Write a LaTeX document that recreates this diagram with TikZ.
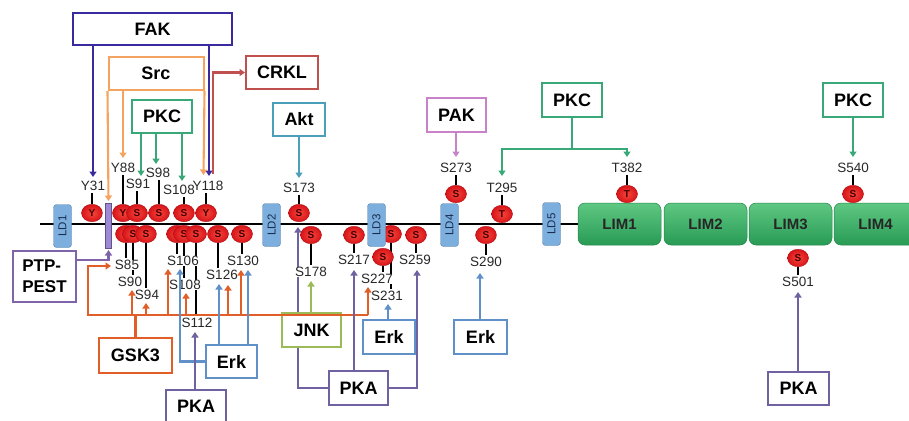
\documentclass[tikz,border=0pt]{standalone}
\usepackage{fontspec}
\setmainfont{Liberation Sans}
\usetikzlibrary{arrows.meta,shapes.geometric}
\definecolor{fakc}{RGB}{57,43,158}
\definecolor{srcc}{RGB}{244,164,96}
\definecolor{pkcc}{RGB}{56,168,120}
\definecolor{crklc}{RGB}{192,80,77}
\definecolor{aktc}{RGB}{75,160,185}
\definecolor{pakc}{RGB}{200,130,200}
\definecolor{pkac}{RGB}{112,98,160}
\definecolor{jnkc}{RGB}{155,187,89}
\definecolor{erkc}{RGB}{95,145,200}
\definecolor{gskc}{RGB}{226,94,40}
\definecolor{ptpc}{RGB}{128,100,170}
\definecolor{ldfill}{RGB}{125,175,222}
\definecolor{ldtext}{RGB}{25,45,80}
\definecolor{limtop}{RGB}{95,200,130}
\definecolor{limbot}{RGB}{40,155,85}
\definecolor{siteout}{RGB}{215,20,25}
\definecolor{sitein}{RGB}{245,70,60}
\definecolor{sitetext}{RGB}{70,0,0}
\definecolor{labc}{RGB}{40,40,40}
\definecolor{prrc}{RGB}{157,138,214}
\pgfdeclarelayer{back}
\pgfsetlayers{back,main}
\tikzset{
  box/.style={draw, line width=2pt, fill=white, inner sep=0pt, font=\bfseries\fontsize{18}{20}\selectfont},
  site/.style={ellipse, inner color=sitein, outer color=siteout, draw=siteout!80!black, line width=0.4pt, minimum width=21pt, minimum height=17.5pt, inner sep=0pt, font=\bfseries\fontsize{10}{10}\selectfont, text=sitetext},
  lab/.style={inner sep=0.6pt, font=\fontsize{13.5}{14}\selectfont, text=labc},
  labw/.style={lab, fill=white},
  ldbox/.style={rounded corners=3pt, fill=ldfill, draw=ldfill!75!black, line width=0.4pt, minimum width=43pt, minimum height=18pt, inner sep=0pt, rotate=90, font=\fontsize{11.5}{12}\selectfont, text=ldtext},
  limbox/.style={rounded corners=7pt, top color=limtop, bottom color=limbot, draw=limbot!85!black, line width=0.5pt, minimum width=83pt, minimum height=42pt, inner sep=0pt, font=\bfseries\fontsize{15}{16}\selectfont, text=black!85},
  stem/.style={line width=2.2pt, draw=black, shorten >=1pt},
  conn/.style={line width=2.1pt},
  arr/.style={line width=2.1pt, -{Triangle[width=7pt,length=5.5pt]}},
}
\begin{document}
\begin{tikzpicture}[x=1pt,y=-1pt]
\useasboundingbox (0,0) rectangle (909,420);
\clip (0,0) rectangle (909,420);

% ---------- LIM domains ----------
\node[limbox] (lim1) at (619.5,224) {LIM1};
\node[limbox] (lim2) at (705.5,224) {LIM2};
\node[limbox] (lim3) at (790.5,224) {LIM3};
\node[limbox] (lim4) at (875.5,224) {LIM4};

% site hidden behind LD3
\node[site] (sS231) at (391,234) {S};

% ---------- LD motifs ----------
\node[ldbox] (ld1) at (62.5,226) {LD1};
\node[ldbox] (ld2) at (271.5,225) {LD2};
\node[ldbox] (ld3) at (376.5,225) {LD3};
\node[ldbox] (ld4) at (449.5,225) {LD4};
\node[ldbox] (ld5) at (551.5,224) {LD5};
\node[draw=ptpc!80!black, fill=prrc, line width=0.4pt, minimum width=6pt, minimum height=45pt, inner sep=0pt] (prr) at (108.5,225.5) {};

% ---------- phosphosites ----------
\node[site] (sY31) at (92,213) {Y};
\node[site] (sY88) at (123,213) {Y};
\node[site] (sS91) at (137,213) {S};
\node[site] (sS98) at (159,213) {S};
\node[site] (sS108a) at (184,213) {S};
\node[site] (sY118) at (206,213) {Y};
\node[site] (sS173) at (299,213) {S};
\node[site] (sT295) at (502,214) {T};
\node[site] (sS273) at (456,194) {S};
\node[site] (sT382) at (627,194) {T};
\node[site] (sS540) at (853,194) {S};
\node[site] (sS85) at (126,234) {S};
\node[site] (sS90) at (133,234) {S};
\node[site] (sS94) at (146,234) {S};
\node[site] (sS106) at (177,234) {S};
\node[site] (sS108b) at (184,234) {S};
\node[site] (sS112) at (196,234) {S};
\node[site] (sS126) at (218,234) {S};
\node[site] (sS130) at (242,234) {S};
\node[site] (sS178) at (311,235) {S};
\node[site] (sS217) at (354,235) {S};
\node[site] (sS259) at (416,235) {S};
\node[site] (sS290) at (486,235) {S};
\node[site] (sS227) at (383,257) {S};
\node[site] (sS501) at (798,258) {S};

% ---------- site labels ----------
\node[lab] (lY31) at (93,186) {Y31};
\node[lab] (lY88) at (123,168) {Y88};
\node[lab] (lS91) at (138,184) {S91};
\node[lab] (lS98) at (158,173) {S98};
\node[lab] (lS108a) at (179,190) {S108};
\node[lab] (lY118) at (208,186) {Y118};
\node[lab] (lS173) at (299,188) {S173};
\node[lab] (lS273) at (456,168) {S273};
\node[lab] (lT295) at (502,188) {T295};
\node[lab] (lT382) at (627,168) {T382};
\node[lab] (lS540) at (853,168) {S540};
\node[labw] (lS85) at (127,265) {S85};
\node[labw] (lS90) at (130,282) {S90};
\node[labw] (lS94) at (147,295) {S94};
\node[labw] (lS106) at (183,261) {S106};
\node[labw] (lS108b) at (185,285) {S108};
\node[labw] (lS112) at (197,323) {S112};
\node[labw] (lS126) at (222,275) {S126};
\node[labw] (lS130) at (243,261) {S130};
\node[labw] (lS178) at (311,272) {S178};
\node[labw] (lS217) at (354,260) {S217};
\node[labw] (lS227) at (377,279) {S227};
\node[labw] (lS231) at (387,296) {S231};
\node[labw] (lS259) at (415,260) {S259};
\node[labw] (lS290) at (486,262) {S290};
\node[labw] (lS501) at (798,282) {S501};

% ---------- kinase / partner boxes ----------
\node[box, draw=fakc, minimum width=159pt, minimum height=32pt] (fak) at (152.5,29) {FAK};
\node[box, draw=srcc, minimum width=95pt, minimum height=33pt] (src) at (156,73.5) {Src};
\node[box, draw=pkcc, minimum width=60pt, minimum height=33pt] (pkcA) at (162,116.5) {PKC};
\node[box, draw=crklc, minimum width=72pt, minimum height=33pt] (crkl) at (282,72.5) {CRKL};
\node[box, draw=aktc, minimum width=52pt, minimum height=33pt] (akt) at (299,119.5) {Akt};
\node[box, draw=pakc, minimum width=59pt, minimum height=34pt] (pak) at (456.5,115) {PAK};
\node[box, draw=pkcc, minimum width=60pt, minimum height=34pt] (pkcB) at (572,100) {PKC};
\node[box, draw=pkcc, minimum width=60pt, minimum height=34pt] (pkcC) at (853,100) {PKC};
\node[box, draw=ptpc, minimum width=63pt, minimum height=51pt, align=left, font=\bfseries\fontsize{17}{21}\selectfont] (ptp) at (44.5,276.5) {PTP-\\PEST};
\node[box, draw=gskc, minimum width=73pt, minimum height=35pt] (gsk) at (135.5,355.5) {GSK3};
\node[box, draw=erkc, minimum width=51pt, minimum height=33pt] (erkA) at (231.5,361.5) {Erk};
\node[box, draw=pkac, minimum width=60pt, minimum height=33pt] (pkaA) at (196,406) {PKA};
\node[box, draw=pkac, minimum width=59pt, minimum height=34pt] (pkaB) at (358.5,388) {PKA};
\node[box, draw=jnkc, minimum width=59pt, minimum height=34pt] (jnk) at (311.5,330) {JNK};
\node[box, draw=erkc, minimum width=52pt, minimum height=34pt] (erkB) at (389,337) {Erk};
\node[box, draw=erkc, minimum width=53pt, minimum height=34pt] (erkC) at (480.5,337) {Erk};
\node[box, draw=pkac, minimum width=61pt, minimum height=33pt] (pkaC) at (798.5,388.5) {PKA};

% ---------- connector end points ----------
\coordinate (lineL) at (40,224);
\coordinate (tY31) at (93,177);
\coordinate (tY88) at (123,158);
\coordinate (tS91) at (141,176);
\coordinate (tS98) at (156,164);
\coordinate (tS108) at (182,181);
\coordinate (tY118s) at (203.5,175);
\coordinate (tY118f) at (209,176);
\coordinate (crklS) at (213,174);
\coordinate (tPRR) at (108.5,201);
\coordinate (ptpB) at (108.5,260);
\coordinate (tPRRb) at (108.5,250);
\coordinate (tS173) at (299,178);
\coordinate (tS273) at (456,157);
\coordinate (pkcbus) at (572,149);
\coordinate (tT295) at (502,176);
\coordinate (tT382) at (627,157);
\coordinate (tS540) at (853,157);
\coordinate (gbusL) at (88,315);
\coordinate (gbusR) at (368,315);
\coordinate (tS85) at (111,266);
\coordinate (tS90) at (132,290);
\coordinate (tS94) at (146,303);
\coordinate (tS106g) at (168,269);
\coordinate (tS108g) at (186,293);
\coordinate (tS126g) at (228,285);
\coordinate (tS130g) at (241,270);
\coordinate (tS227g) at (368,287);
\coordinate (tS106e) at (180,269);
\coordinate (tS126e) at (219,284);
\coordinate (tS130e) at (248,270);
\coordinate (tS112) at (195,332);
\coordinate (tS178) at (311,281);
\coordinate (tS173b) at (298,227);
\coordinate (tS217) at (354,270);
\coordinate (tS259) at (417,270);
\coordinate (tS231) at (388,304);
\coordinate (tS290) at (480,273);
\coordinate (tS501) at (798,292);

% ---------- background: backbone, stems, hidden connector ----------
\begin{pgfonlayer}{back}
\draw[line width=2.8pt, black] (lineL) -- (lim1.west);
\foreach \n in {Y31,Y88,S91,S98,S108a,Y118,S173,T295,S273,T382,S540}
  \draw[stem] (s\n) -- (s\n |- l\n.south);
\foreach \n in {S85,S90,S94,S106,S108b,S112,S126,S130,S178,S217,S227,S231,S259,S290,S501}
  \draw[stem] (s\n) -- (s\n |- l\n.north);
\draw[arr, pkac] (pkaB.west) -| (tS173b);
\end{pgfonlayer}

% ---------- connectors ----------
\draw[arr, fakc] (fak.south -| tY31) -- (tY31);
\draw[arr, fakc] (fak.south -| tY118f) -- (tY118f);
\draw[arr, srcc] (src.south west) -- (tPRR);
\draw[arr, srcc] (src.south -| tY88) -- (tY88);
\draw[arr, srcc] (src.south east) -- (tY118s);
\draw[arr, pkcc] (pkcA.south -| tS91) -- (tS91);
\draw[arr, pkcc] (pkcA.south -| tS98) -- (tS98);
\draw[arr, pkcc] (pkcA.south -| tS108) -- (tS108);
\draw[arr, crklc] (crklS) |- (crkl.west);
\draw[arr, aktc] (akt.south -| tS173) -- (tS173);
\draw[arr, pakc] (pak.south -| tS273) -- (tS273);
\draw[conn, pkcc] (pkcB.south) -- (pkcbus);
\draw[arr, pkcc] (pkcbus) -| (tT295);
\draw[arr, pkcc] (pkcbus) -| (tT382);
\draw[arr, pkcc] (pkcC.south) -- (tS540);
\draw[arr, ptpc] (ptp.east |- ptpB) -- (ptpB) -- (tPRRb);

\draw[conn, gskc] (gsk.north) -- (gsk.north |- gbusL);
\draw[arr, gskc] (gbusR) -- (gbusL) |- (tS85);
\foreach \t in {tS90,tS94,tS106g,tS108g,tS126g,tS130g,tS227g}
  \draw[arr, gskc] (\t |- gbusL) -- (\t);

\draw[arr, erkc] (erkA.west) -| (tS106e);
\draw[arr, erkc] (erkA.north -| tS126e) -- (tS126e);
\draw[arr, erkc] (erkA.north -| tS130e) -- (tS130e);
\draw[arr, pkac] (pkaA.north -| tS112) -- (tS112);
\draw[arr, jnkc] (jnk.north -| tS178) -- (tS178);
\draw[arr, pkac] (pkaB.north -| tS217) -- (tS217);
\draw[arr, pkac] (pkaB.east) -| (tS259);
\draw[arr, erkc] (erkB.north -| tS231) -- (tS231);
\draw[arr, erkc] (erkC.north -| tS290) -- (tS290);
\draw[arr, pkac] (pkaC.north -| tS501) -- (tS501);
\end{tikzpicture}
\end{document}
